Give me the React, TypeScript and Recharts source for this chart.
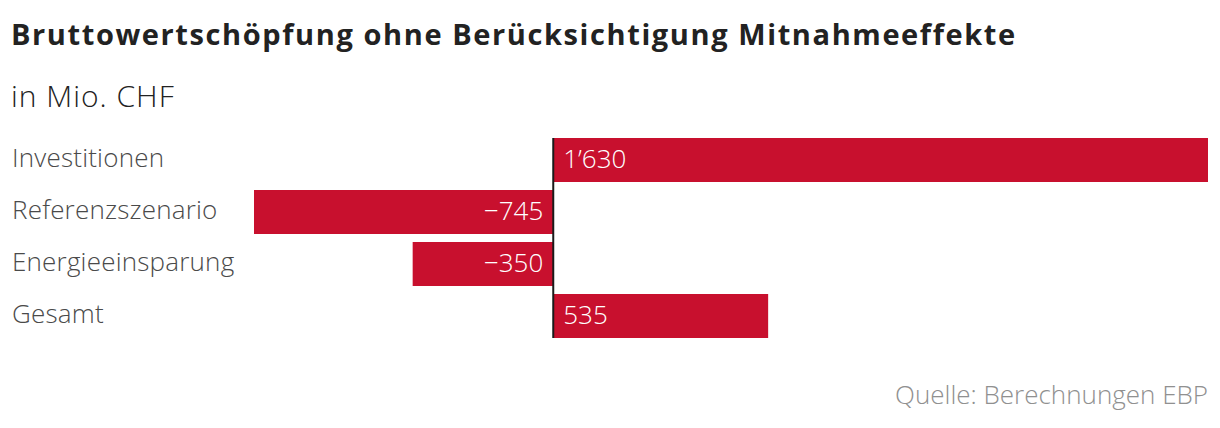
import { BarChart, Bar, XAxis, YAxis, LabelList, Rectangle } from 'recharts';

const categories = ['Investitionen', 'Referenzszenario', 'Energieeinsparung', 'Gesamt'];
const values = [1630, -745, -350, 535];

const TITLE = 'Bruttowertschöpfung ohne Berücksichtigung Mitnahmeeffekte';
const SUBTITLE = 'in Mio. CHF';
const SOURCE = 'Quelle: Berechnungen EBP';

const FONT = '"Open Sans", "Noto Sans", sans-serif';
const RED = '#c8102e';
const GAP = 8;

const data = categories.map((name, i) => ({ name, value: values[i] }));

// Swiss formatting: 1'630 and a real minus sign
const fmt = (v: number) => {
  const abs = Math.abs(v).toString().replace(/\B(?=(\d{3})+(?!\d))/g, '\u2019');
  return (v < 0 ? '\u2212' : '') + abs;
};

const CategoryTick = (props: any) => {
  const { y, payload } = props;
  return (
    <text x={12} y={y} dy={7} textAnchor="start" fill="#4a4a4a" fontSize={26} fontWeight={300} letterSpacing={0.2} fontFamily={FONT}>
      {payload.value}
    </text>
  );
};

const ValueLabel = (props: any) => {
  const { x, y, width, height, value } = props;
  const left = Math.min(x, x + width);
  const right = Math.max(x, x + width);
  const pos = value >= 0;
  return (
    <text
      x={pos ? left + 10 : right - 10}
      y={y + height / 2}
      dy={8}
      textAnchor={pos ? 'start' : 'end'}
      fill="#fff"
      fontSize={26}
      fontWeight={300}
      fontFamily={FONT}
    >
      {fmt(value)}
    </text>
  );
};

// bar plus the piece of the zero line that runs alongside it
const BarWithAxis = (props: any) => {
  const { x, y, width, height, index, value } = props;
  const v = Array.isArray(value) ? value[1] - value[0] : value;
  const zero = v >= 0 ? Math.min(x, x + width) : Math.max(x, x + width);
  const top = index > 0 ? y - GAP / 2 : y;
  const bottom = index < data.length - 1 ? y + height + GAP / 2 : y + height;
  return (
    <g>
      <Rectangle {...props} fill={RED} />
      <line x1={zero} x2={zero} y1={top} y2={bottom} stroke="#1a1a1a" strokeWidth={2} />
    </g>
  );
};

export default function App() {
  return (
    <div style={{ position: 'absolute', left: 0, top: 0, width: 1220, height: 428, background: '#fff', fontFamily: FONT }}>
      <svg width={1220} height={428} style={{ position: 'absolute', left: 0, top: 0 }}>
        <text x={11} y={45} fill="#222" fontSize={29} fontWeight={700} letterSpacing={1.6} fontFamily={FONT}>
          {TITLE}
        </text>
        <text x={11} y={107} fill="#222" fontSize={30} fontWeight={300} letterSpacing={1} fontFamily={FONT}>
          {SUBTITLE}
        </text>
        <text x={1208} y={404} textAnchor="end" fill="#909090" fontSize={26} fontWeight={300} fontFamily={FONT}>
          {SOURCE}
        </text>
      </svg>
      <div style={{ position: 'absolute', left: 0, top: 120 }}>
        <BarChart
          width={1220}
          height={240}
          data={data}
          layout="vertical"
          margin={{ top: 14, right: 12, bottom: 18, left: 0 }}
          barCategoryGap={GAP / 2}
        >
          <XAxis type="number" hide domain={['dataMin', 'dataMax']} />
          <YAxis type="category" dataKey="name" width={254} axisLine={false} tickLine={false} tick={<CategoryTick />} />
          <Bar dataKey="value" fill={RED} isAnimationActive={false} shape={<BarWithAxis />}>
            <LabelList dataKey="value" content={<ValueLabel />} />
          </Bar>
        </BarChart>
      </div>
    </div>
  );
}
